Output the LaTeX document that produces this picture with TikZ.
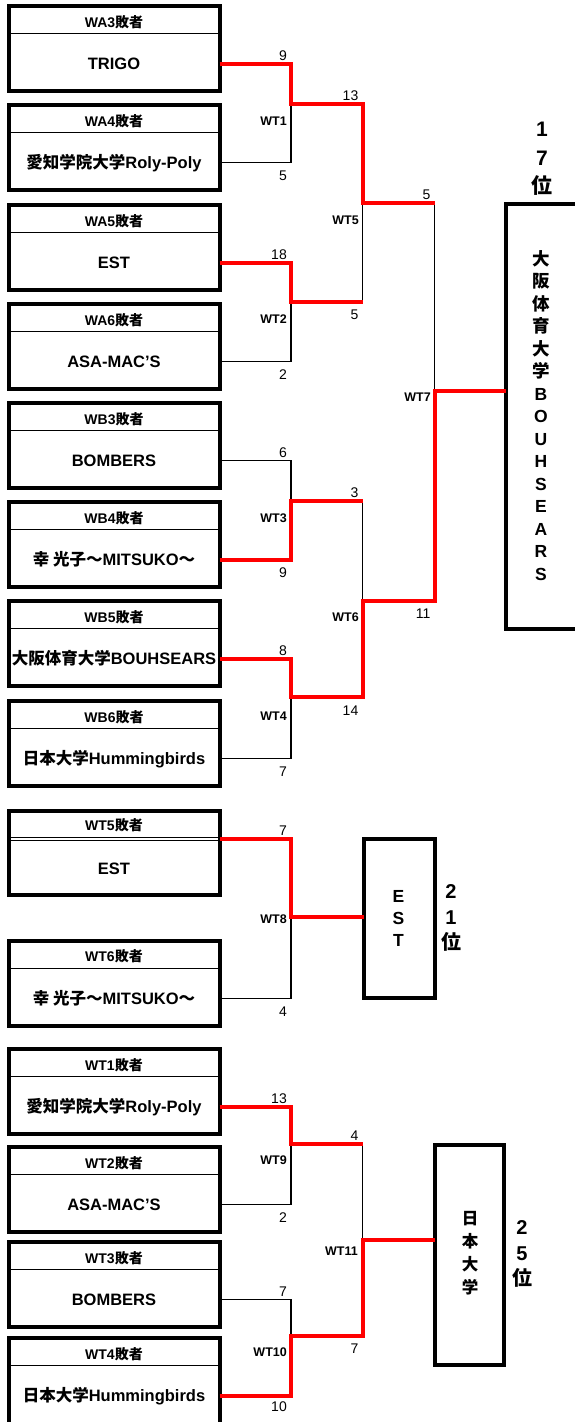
\documentclass[tikz,border=0pt]{standalone}
\usepackage{fontspec}
\setmainfont{Liberation Sans}
\newfontfamily\jp{Noto Sans CJK JP}
\usepackage{tikz}

\begin{document}
\begin{tikzpicture}[x=1pt,y=-1pt,
  teambox/.style={draw,line width=4pt,outer sep=0pt,inner sep=0pt,anchor=north,
    minimum width=211pt,minimum height=84.5pt,
    path picture={\draw[line width=0.9pt,double,double distance=2pt]
      ([yshift=-28.5pt]path picture bounding box.north west) --
      ([yshift=-28.5pt]path picture bounding box.north east);}},
  headtxt/.style={font=\bfseries\fontsize{14}{14}\selectfont,inner sep=0pt},
  teamtxt/.style={font=\bfseries\fontsize{16.5}{16.5}\selectfont,inner sep=0pt,
    text height=14pt,text depth=2pt},
  score/.style={font=\fontsize{14}{14}\selectfont,anchor=base east,inner sep=0pt},
  mlbl/.style={font=\bfseries\fontsize{12.5}{12.5}\selectfont,anchor=base east,inner sep=0pt},
  lose/.style={line width=1.2pt},
  win/.style={line width=4pt,red},
  finalbox/.style={draw,line width=4pt,outer sep=0pt,inner sep=0pt},
  vtxt/.style={font=\bfseries\fontsize{17.5}{22.5}\selectfont,align=center,inner sep=0pt},
  rank/.style={font=\bfseries\fontsize{20}{25.5}\selectfont,align=center,inner sep=0pt}]
\useasboundingbox (0,0) rectangle (575,1422);

\node[teambox] (b1) at (114,6) {};
\node[headtxt] at (114,22) {WA3{\jp 敗者}};
\node[teamtxt] (t1) at (114,63.5) {TRIGO};
\node[teambox] (b2) at (114,105) {};
\node[headtxt] at (114,121) {WA4{\jp 敗者}};
\node[teamtxt] (t2) at (114,162.5) {{\jp 愛知学院大学}Roly-Poly};
\node[teambox] (b3) at (114,205) {};
\node[headtxt] at (114,221) {WA5{\jp 敗者}};
\node[teamtxt] (t3) at (114,262.5) {EST};
\node[teambox] (b4) at (114,304) {};
\node[headtxt] at (114,320) {WA6{\jp 敗者}};
\node[teamtxt] (t4) at (114,361.5) {ASA-MAC’S};
\node[teambox] (b5) at (114,403) {};
\node[headtxt] at (114,419) {WB3{\jp 敗者}};
\node[teamtxt] (t5) at (114,460.5) {BOMBERS};
\node[teambox] (b6) at (114,502) {};
\node[headtxt] at (114,518) {WB4{\jp 敗者}};
\node[teamtxt] (t6) at (114,559.5) {{\jp 幸 光子～}MITSUKO{\jp ～}};
\node[teambox] (b7) at (114,601) {};
\node[headtxt] at (114,617) {WB5{\jp 敗者}};
\node[teamtxt] (t7) at (114,658.5) {{\jp 大阪体育大学}BOUHSEARS};
\node[teambox] (b8) at (114,701) {};
\node[headtxt] at (114,717) {WB6{\jp 敗者}};
\node[teamtxt] (t8) at (114,758.5) {{\jp 日本大学}Hummingbirds};

\node[teambox] (b9) at (114,810.5) {};
\node[headtxt] at (114,825.5) {WT5{\jp 敗者}};
\node[teamtxt] (t9) at (114,868) {EST};
\node[teambox] (b10) at (114,941) {};
\node[headtxt] at (114,956) {WT6{\jp 敗者}};
\node[teamtxt] (t10) at (114,998.5) {{\jp 幸 光子～}MITSUKO{\jp ～}};

\node[teambox] (b11) at (114,1049) {};
\node[headtxt] at (114,1065) {WT1{\jp 敗者}};
\node[teamtxt] (t11) at (114,1106.5) {{\jp 愛知学院大学}Roly-Poly};
\node[teambox] (b12) at (114,1147) {};
\node[headtxt] at (114,1163) {WT2{\jp 敗者}};
\node[teamtxt] (t12) at (114,1204.5) {ASA-MAC’S};
\node[teambox] (b13) at (114,1242) {};
\node[headtxt] at (114,1258) {WT3{\jp 敗者}};
\node[teamtxt] (t13) at (114,1299.5) {BOMBERS};
\node[teambox,minimum height=100pt] (b14) at (114,1338) {};
\node[headtxt] at (114,1354) {WT4{\jp 敗者}};
\node[teamtxt] (t14) at (114,1395.5) {{\jp 日本大学}Hummingbirds};

\node[finalbox,minimum width=84pt,minimum height=425pt] (f1) at (548.3,416.5) {};
\node[vtxt] (f1t) at (541,415.5) {{\jp 大}\\{\jp 阪}\\{\jp 体}\\{\jp 育}\\{\jp 大}\\{\jp 学}\\B\\O\\U\\H\\S\\E\\A\\R\\S};
\node[rank,font=\bfseries\fontsize{21}{28.5}\selectfont] (r1) at (542,159) {1\\7\\{\jp 位}};
\node[finalbox,minimum width=70.7pt,minimum height=158.8pt] (f2) at (399.3,918.1) {};
\node[vtxt,font=\bfseries\fontsize{17.5}{22}\selectfont] (f2t) at (398.5,918) {E\\S\\T};
\node[rank] (r2) at (451,918) {2\\1\\{\jp 位}};
\node[finalbox,minimum width=68.7pt,minimum height=220.3pt] (f3) at (469.7,1254.9) {};
\node[vtxt,font=\bfseries\fontsize{16.5}{23}\selectfont] (f3t) at (470,1253) {{\jp 日}\\{\jp 本}\\{\jp 大}\\{\jp 学}};
\node[rank] (r3) at (522,1254) {2\\5\\{\jp 位}};

\coordinate (wt1) at (291,104);
\coordinate (wt2) at (291,302);
\coordinate (wt3) at (291,501);
\coordinate (wt4) at (291,697);
\coordinate (wt5) at (362.5,203);
\coordinate (wt6) at (362.5,600.5);
\coordinate (wt7) at (434.5,391);
\coordinate (wt8) at (291,917);
\coordinate (wt9) at (291,1144);
\coordinate (wt10) at (291,1335.5);
\coordinate (wt11) at (362.5,1239.5);

\draw[lose] (b2.east |- t2) -| (wt1);
\draw[lose] (b4.east |- t4) -| (wt2);
\draw[lose] (wt2 -| wt5) -- (wt5);
\draw[lose] (b5.east |- t5) -| (wt3);
\draw[lose] (b8.east |- t8) -| (wt4);
\draw[lose] (wt3 -| wt6) -- (wt6);
\draw[lose] (wt5 -| wt7) -- (wt7);
\draw[lose] (b10.east |- t10) -| (wt8);
\draw[lose] (b12.east |- t12) -| (wt9);
\draw[lose] (b13.east |- t13) -| (wt10);
\draw[lose] (wt9 -| wt11) -- (wt11);

\draw[win] (b1.east |- t1) -| (wt1) -| (wt5) -- (wt5 -| wt7);
\draw[win] (b3.east |- t3) -| (wt2) -- (wt2 -| wt5);
\draw[win] (b6.east |- t6) -| (wt3) -- (wt3 -| wt6);
\draw[win] (b7.east |- t7) -| (wt4) -| (wt6) -| (wt7) -- (f1.west |- wt7);
\draw[win] ([yshift=-28.5pt]b9.north east) -| (wt8) -- (f2.west |- wt8);
\draw[win] (b11.east |- t11) -| (wt9) -- (wt9 -| wt11);
\draw[win] (b14.east |- t14) -| (wt10) -| (wt11) -- (f3.west |- wt11);

\node[score] at (287,60) {9};
\node[score] at (287,180) {5};
\node[score] at (287,259) {18};
\node[score] at (287,379) {2};
\node[score] at (287,457) {6};
\node[score] at (287,577) {9};
\node[score] at (287,655) {8};
\node[score] at (287,776) {7};
\node[score] at (358.5,100.5) {13};
\node[score] at (358.5,319.5) {5};
\node[score] at (358.5,497.5) {3};
\node[score] at (358.5,715) {14};
\node[score] at (430.5,199.5) {5};
\node[score] at (430.5,618) {11};
\node[score] at (287,835) {7};
\node[score] at (287,1016) {4};
\node[score] at (287,1103) {13};
\node[score] at (287,1222) {2};
\node[score] at (287,1296) {7};
\node[score] at (287,1411) {10};
\node[score] at (358.5,1140.5) {4};
\node[score] at (358.5,1353) {7};

\node[mlbl] at (287,125) {WT1};
\node[mlbl] at (287,323) {WT2};
\node[mlbl] at (287,522) {WT3};
\node[mlbl] at (287,720) {WT4};
\node[mlbl] at (359,224) {WT5};
\node[mlbl] at (359,621) {WT6};
\node[mlbl] at (431,401) {WT7};
\node[mlbl] at (287,923) {WT8};
\node[mlbl] at (287,1164) {WT9};
\node[mlbl] at (287,1356) {WT10};
\node[mlbl] at (358,1255) {WT11};

\end{tikzpicture}
\end{document}
